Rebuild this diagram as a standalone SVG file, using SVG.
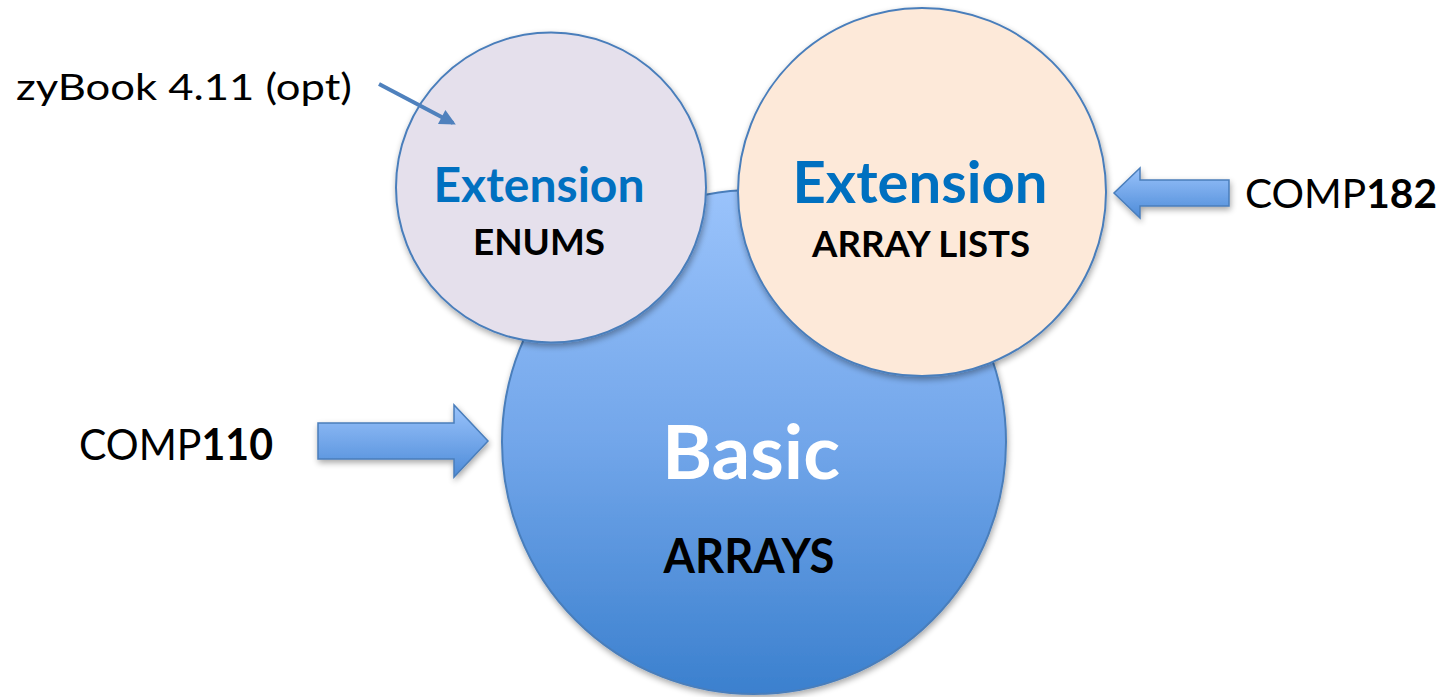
<svg xmlns="http://www.w3.org/2000/svg" width="1445" height="697" viewBox="0 0 1445 697">
  <style>
    text { font-family: Lato, "Open Sans", "Liberation Sans", sans-serif; }
    .circle { stroke: #4A7EBB; stroke-width: 2; }
    .head { fill: #0070C0; font-weight: bold; text-anchor: middle; }
    .sub { fill: #000000; font-weight: bold; text-anchor: middle; }
    .label { fill: #000000; font-weight: normal; }
    .block { fill: url(#arrowFill); stroke: #4A7EBB; stroke-width: 1.5; }
  </style>
  <defs>
    <linearGradient id="basicFill" x1="0" y1="0" x2="0" y2="1">
      <stop offset="0" stop-color="#9AC3FB"/>
      <stop offset="0.5" stop-color="#72A6EA"/>
      <stop offset="1" stop-color="#3B80CE"/>
    </linearGradient>
    <linearGradient id="arrowFill" x1="0" y1="0" x2="0" y2="1">
      <stop offset="0" stop-color="#9AC3FB"/>
      <stop offset="1" stop-color="#4D8BD8"/>
    </linearGradient>
    <filter id="shadow" x="-20%" y="-20%" width="140%" height="140%">
      <feGaussianBlur in="SourceAlpha" stdDeviation="3"/>
      <feOffset dx="1" dy="3" result="off"/>
      <feComponentTransfer><feFuncA type="linear" slope="0.35"/></feComponentTransfer>
      <feMerge><feMergeNode/><feMergeNode in="SourceGraphic"/></feMerge>
    </filter>
    <marker id="tip" viewBox="0 0 10 10" refX="8" refY="5" markerWidth="4.6" markerHeight="4" orient="auto" markerUnits="strokeWidth">
      <path d="M0,0 L10,5 L0,10 z" fill="#4F81BD"/>
    </marker>
  </defs>

  <!-- core topic -->
  <g id="basic">
    <circle class="circle" cx="754" cy="442" r="252" fill="url(#basicFill)" filter="url(#shadow)"/>
    <text x="751" y="479" font-size="74" font-weight="bold" fill="#FFFFFF" text-anchor="middle" textLength="178" lengthAdjust="spacingAndGlyphs">Basic</text>
    <text class="sub" x="749" y="573" font-size="47" textLength="171" lengthAdjust="spacingAndGlyphs">ARRAYS</text>
  </g>

  <!-- optional extension -->
  <g id="enums">
    <circle class="circle" cx="551" cy="187.5" r="155" fill="#E5E0EC" filter="url(#shadow)"/>
    <text class="head" x="539" y="202" font-size="48" textLength="211" lengthAdjust="spacingAndGlyphs">Extension</text>
    <text class="sub" x="539" y="255" font-size="37" textLength="132" lengthAdjust="spacingAndGlyphs">ENUMS</text>
  </g>

  <!-- follow-on extension -->
  <g id="arraylists">
    <circle class="circle" cx="922" cy="192" r="184" fill="#FDE9D9" filter="url(#shadow)"/>
    <text class="head" x="920" y="203" font-size="57" textLength="255" lengthAdjust="spacingAndGlyphs">Extension</text>
    <text class="sub" x="921" y="257" font-size="36" textLength="218" lengthAdjust="spacingAndGlyphs">ARRAY LISTS</text>
  </g>

  <!-- course labels -->
  <g id="zybook">
    <text class="label" x="16" y="100" font-size="36" textLength="336" lengthAdjust="spacingAndGlyphs">zyBook 4.11 (opt)</text>
  </g>
  <g id="comp110">
    <text class="label" x="79" y="460" font-size="43" textLength="194" lengthAdjust="spacingAndGlyphs">COMP<tspan font-weight="bold">110</tspan></text>
  </g>
  <g id="comp182">
    <text class="label" x="1245" y="208" font-size="41" textLength="192" lengthAdjust="spacingAndGlyphs">COMP<tspan font-weight="bold">182</tspan></text>
  </g>

  <!-- connectors -->
  <g id="connectors">
    <line x1="379" y1="84" x2="453" y2="123" stroke="#4F81BD" stroke-width="4" marker-end="url(#tip)"/>
    <path class="block" filter="url(#shadow)" d="M318,423 L454,423 L454,405 L488,441 L454,477 L454,459 L318,459 Z"/>
    <path class="block" filter="url(#shadow)" d="M1229,180 L1140,180 L1140,168 L1114,193 L1140,218 L1140,206 L1229,206 Z"/>
  </g>
</svg>
